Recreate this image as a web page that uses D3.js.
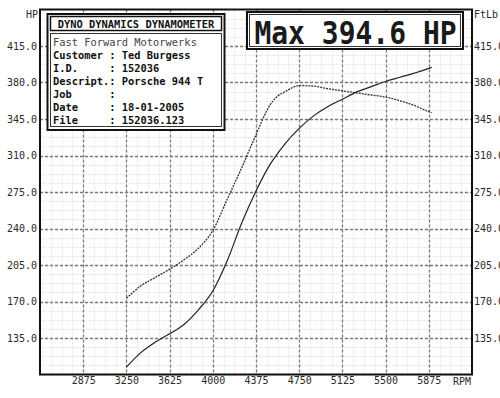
<!DOCTYPE html>
<html>
<head>
<meta charset="utf-8">
<script src="https://cdn.jsdelivr.net/npm/d3@7"></script>
<style>
  body { margin: 0; background: #fff; }
  svg { display: block; }
  text { font-family: "DejaVu Sans Mono", monospace; }
  .tick line { display: none; }
  .domain { display: none; }
</style>
</head>
<body>
<div id="chart"></div>
<script>
// values
var rpm = [3250, 3375, 3500, 3625, 3750, 3875, 4000, 4125, 4250, 4375, 4500, 4563, 4625, 4750, 4875, 5000, 5125, 5250, 5375, 5500, 5625, 5750, 5875, 5900];
var power = [107, 121, 131, 139, 148, 162, 180, 209, 245, 276, 302, 312, 321, 336, 348, 357, 364, 371, 376, 381, 385, 389, 393.5, 394.6];
var torque = [173, 185, 193, 201, 210, 221, 238, 268, 298, 330, 359, 367, 371, 377, 376.5, 374, 372, 370, 368, 366, 362.5, 358, 352, 351];

var rpmTicks = [2875, 3250, 3625, 4000, 4375, 4750, 5125, 5500, 5875];
var valueTicks = [135, 170, 205, 240, 275, 310, 345, 380, 415];

var infoTitle = 'DYNO DYNAMICS DYNAMOMETER';
var infoHead = 'Fast Forward Motorwerks';
var infoRows = [
  'Customer : Ted Burgess',
  'I.D.     : 152036',
  'Descript.: Porsche 944 T',
  'Job      :',
  'Date     : 18-01-2005',
  'File     : 152036.123'
];
var maxLabel = 'Max 394.6 HP';

var width = 500, height = 398;
var plotL = 40, plotR = 472, plotT = 9.5, plotB = 374.5;

var svg = d3.select('#chart').append('svg')
  .attr('width', width)
  .attr('height', height);

var x = d3.scaleLinear().domain([2500, 6250]).range([plotL, plotR]);
var y = d3.scaleLinear().domain([100, 450]).range([plotB, plotT]);

// fine grid, 4 steps per major division
var minorX = d3.range(2500, 6250, 375 / 4);
var minorY = d3.range(100, 450, 35 / 4);

svg.append('g').selectAll('line').data(minorX).join('line')
  .attr('x1', function(d){ return Math.round(x(d)) + 0.5; })
  .attr('x2', function(d){ return Math.round(x(d)) + 0.5; })
  .attr('y1', plotT).attr('y2', plotB)
  .attr('stroke', '#e0e0e0')
  .attr('stroke-dasharray', '1,1');

svg.append('g').selectAll('line').data(minorY).join('line')
  .attr('y1', function(d){ return Math.round(y(d)) + 0.5; })
  .attr('y2', function(d){ return Math.round(y(d)) + 0.5; })
  .attr('x1', plotL).attr('x2', plotR)
  .attr('stroke', '#e0e0e0')
  .attr('stroke-dasharray', '1,1');

// major grid
svg.append('g').selectAll('line').data(rpmTicks).join('line')
  .attr('x1', function(d){ return Math.round(x(d)) + 0.5; })
  .attr('x2', function(d){ return Math.round(x(d)) + 0.5; })
  .attr('y1', plotT).attr('y2', plotB)
  .attr('stroke', '#7a7a7a')
  .attr('stroke-width', 1.3)
  .attr('stroke-dasharray', '3,2');

svg.append('g').selectAll('line').data(valueTicks).join('line')
  .attr('y1', function(d){ return Math.round(y(d)) + 0.5; })
  .attr('y2', function(d){ return Math.round(y(d)) + 0.5; })
  .attr('x1', plotL).attr('x2', plotR)
  .attr('stroke', '#7a7a7a')
  .attr('stroke-width', 1.3)
  .attr('stroke-dasharray', '3,2');

// axis labels (right side runs off the sheet, as on the printout)
var fmt = d3.format('.1f');

svg.append('g')
  .attr('transform', 'translate(' + plotL + ',0)')
  .call(d3.axisLeft(y).tickValues(valueTicks).tickFormat(fmt).tickSize(0).tickPadding(3));

svg.append('g')
  .attr('transform', 'translate(' + plotR + ',0)')
  .call(d3.axisRight(y).tickValues(valueTicks).tickFormat(fmt).tickSize(0).tickPadding(2));

svg.append('g')
  .attr('transform', 'translate(0,' + plotB + ')')
  .call(d3.axisBottom(x).tickValues(rpmTicks).tickFormat(d3.format('d')).tickSize(0).tickPadding(2));

svg.selectAll('.tick text')
  .style('font-family', '"DejaVu Sans Mono", monospace')
  .style('font-size', '10px')
  .attr('fill', '#2a2a2a');

svg.append('text').attr('x', 38).attr('y', 18)
  .attr('text-anchor', 'end')
  .attr('font-size', 10).attr('fill', '#2a2a2a')
  .text('HP');

svg.append('text').attr('x', 474).attr('y', 18)
  .attr('font-size', 10).attr('fill', '#2a2a2a')
  .text('FtLb');

svg.append('text').attr('x', 471).attr('y', 385)
  .attr('text-anchor', 'end')
  .attr('font-size', 10).attr('fill', '#2a2a2a')
  .text('RPM');

// curves
var points = rpm.map(function(r, i){ return { rpm: r, hp: power[i], tq: torque[i] }; });

var hpLine = d3.line()
  .x(function(d){ return x(d.rpm); })
  .y(function(d){ return y(d.hp); })
  .curve(d3.curveMonotoneX);

var tqLine = d3.line()
  .x(function(d){ return x(d.rpm); })
  .y(function(d){ return y(d.tq); })
  .curve(d3.curveMonotoneX);

svg.append('path').datum(points)
  .attr('d', tqLine)
  .attr('fill', 'none')
  .attr('stroke', '#333')
  .attr('stroke-width', 1.3)
  .attr('stroke-dasharray', '2,1');

svg.append('path').datum(points)
  .attr('d', hpLine)
  .attr('fill', 'none')
  .attr('stroke', '#222')
  .attr('stroke-width', 1.2);

// frame
svg.append('rect')
  .attr('x', plotL).attr('y', plotT)
  .attr('width', plotR - plotL).attr('height', plotB - plotT)
  .attr('fill', 'none')
  .attr('stroke', '#111')
  .attr('stroke-width', 2);

// info box
var info = svg.append('g');
info.append('rect')
  .attr('x', 47.5).attr('y', 14)
  .attr('width', 177).attr('height', 116)
  .attr('fill', '#fff')
  .attr('stroke', '#111')
  .attr('stroke-width', 2);
info.append('rect')
  .attr('x', 50.5).attr('y', 16.5)
  .attr('width', 171).attr('height', 14)
  .attr('fill', 'none')
  .attr('stroke', '#111')
  .attr('stroke-width', 1.5);
info.append('rect')
  .attr('x', 50.5).attr('y', 33.5)
  .attr('width', 171).attr('height', 93)
  .attr('fill', 'none')
  .attr('stroke', '#333')
  .attr('stroke-width', 1);

info.append('text')
  .attr('x', 136).attr('y', 27.5)
  .attr('text-anchor', 'middle')
  .attr('font-size', 10.4)
  .attr('font-weight', 'bold')
  .attr('fill', '#111')
  .text(infoTitle);

info.append('text')
  .attr('x', 53).attr('y', 45.5)
  .attr('font-size', 10.4)
  .attr('fill', '#444')
  .text(infoHead);

info.selectAll('text.row').data(infoRows).join('text')
  .attr('class', 'row')
  .attr('x', 53)
  .attr('y', function(d, i){ return 59 + i * 13.05; })
  .attr('font-size', 10.4)
  .attr('font-weight', 'bold')
  .attr('fill', '#111')
  .style('white-space', 'pre')
  .text(function(d){ return d; });

// max power box
var maxBox = svg.append('g');
maxBox.append('rect')
  .attr('x', 247).attr('y', 12)
  .attr('width', 216).attr('height', 37)
  .attr('fill', '#fff')
  .attr('stroke', '#111')
  .attr('stroke-width', 2);
maxBox.append('rect')
  .attr('x', 249.5).attr('y', 14.5)
  .attr('width', 211).attr('height', 32)
  .attr('fill', 'none')
  .attr('stroke', '#333')
  .attr('stroke-width', 1);
maxBox.append('text')
  .attr('transform', 'translate(355.5,43.5) scale(1,1.12)')
  .attr('text-anchor', 'middle')
  .attr('font-size', 28)
  .attr('font-weight', 'bold')
  .attr('fill', '#1a1a1a')
  .text(maxLabel);
</script>
</body>
</html>
